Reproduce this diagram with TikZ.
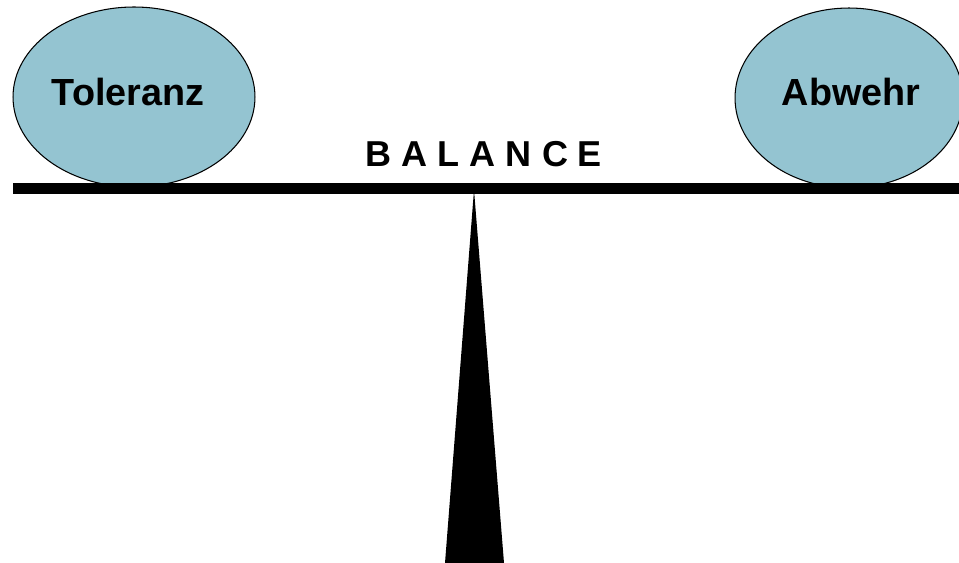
\documentclass[tikz,border=0pt]{standalone}
\usepackage{fontspec}
\setmainfont{Liberation Sans}
\usetikzlibrary{shapes.geometric}
\definecolor{weightblue}{HTML}{94C4D1}

\begin{document}
\begin{tikzpicture}[x=0.02cm,y=-0.02cm,every node/.style={font=\bfseries\fontsize{21.5}{25}\selectfont}]
\useasboundingbox (0,0) rectangle (959,563);
\clip (0,0) rectangle (959,563);
\tikzset{weight/.style={draw,line width=.6pt,ellipse,fill=weightblue,inner sep=0pt,minimum height=3.6cm}}
\coordinate (beamL) at (13,188.5);
\coordinate (beamR) at (965,188.5);
\coordinate (top) at (474,190);
\coordinate (footL) at (445,563);
\coordinate (footR) at (504,563);
\node[weight,minimum width=4.84cm] (tol) at (134,97) {};
\node[weight,minimum width=4.56cm] (abw) at (849,98) {};
\node (tolText) at (128,92.5) {Toleranz};
\node (abwText) at (851,92.5) {Abwehr};
\node[font=\bfseries\fontsize{20.5}{24}\selectfont] (balance) at (484,154.5) {B A L A N C E};
\draw[line width=6.3pt] (beamL)--(beamR);
\fill (top)--(footL)--(footR)--cycle;
\end{tikzpicture}
\end{document}
